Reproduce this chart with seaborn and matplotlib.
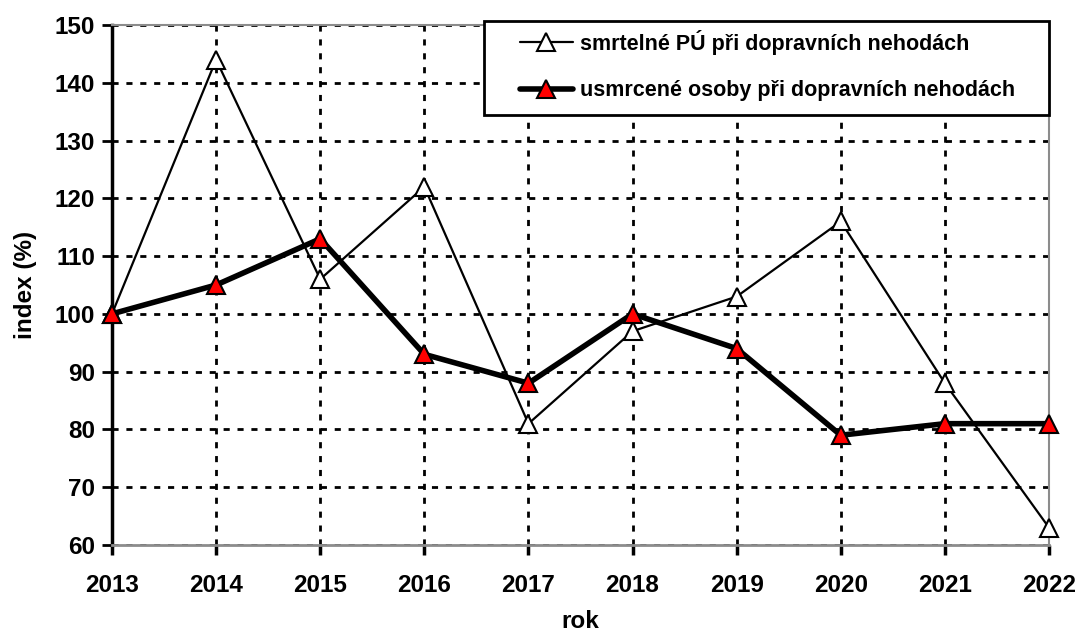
import matplotlib
matplotlib.use("Agg")
import matplotlib.pyplot as plt
import matplotlib.patches as mpatches
import seaborn as sns
import pandas as pd

years = [2013, 2014, 2015, 2016, 2017, 2018, 2019, 2020, 2021, 2022]
smrtelne_pu = [100, 144, 106, 122, 81, 97, 103, 116, 88, 63]
usmrcene_osoby = [100, 105, 113, 93, 88, 100, 94, 79, 81, 81]
label_pu = "smrtelné PÚ při dopravních nehodách"
label_os = "usmrcené osoby při dopravních nehodách"
y_ticks = [60, 70, 80, 90, 100, 110, 120, 130, 140, 150]

sns.set_theme(style="white")
plt.rcParams['font.family'] = ['Liberation Sans', 'DejaVu Sans']
plt.rcParams['font.weight'] = 'bold'
plt.rcParams['text.color'] = 'black'
plt.rcParams['axes.labelcolor'] = 'black'
plt.rcParams['xtick.color'] = 'black'
plt.rcParams['ytick.color'] = 'black'

fig = plt.figure(figsize=(10.81, 6.31), dpi=100)
ax = fig.add_axes([0.1036, 0.1363, 0.8668, 0.8241])

df1 = pd.DataFrame({"rok": years, "index": smrtelne_pu})
df2 = pd.DataFrame({"rok": years, "index": usmrcene_osoby})

sns.lineplot(data=df1, x="rok", y="index", ax=ax, color="black", linewidth=1.6,
             marker="^", markersize=13, markerfacecolor="white",
             markeredgecolor="black", markeredgewidth=1.5, label=label_pu,
             clip_on=False, zorder=4)
sns.lineplot(data=df2, x="rok", y="index", ax=ax, color="black", linewidth=4,
             marker="^", markersize=13, markerfacecolor="red",
             markeredgecolor="black", markeredgewidth=1.5, label=label_os,
             clip_on=False, zorder=5)

ax.set_xlim(2013, 2022)
ax.set_ylim(60, 150)
ax.set_xticks(years)
ax.set_yticks(y_ticks)
ax.set_xticklabels([str(y) for y in years], fontsize=17.5, fontweight='bold')
ax.set_yticklabels([str(v) for v in y_ticks], fontsize=17.5, fontweight='bold')
ax.tick_params(axis='x', direction='out', length=7, width=2.5, color='black', pad=14,
               bottom=True, labelcolor='black')
ax.tick_params(axis='y', direction='out', length=7, width=2, color='black', pad=5,
               left=True, labelcolor='black')

ax.grid(True, color='black', linestyle=(0, (2.2, 2.8)), linewidth=2)
ax.set_axisbelow(True)

for s in ['top', 'right']:
    ax.spines[s].set_color('#8c8c8c')
    ax.spines[s].set_linewidth(1.5)
ax.spines['bottom'].set_color('#8c8c8c')
ax.spines['bottom'].set_linewidth(2)
ax.spines['left'].set_color('black')
ax.spines['left'].set_linewidth(2.5)

ax.set_xlabel("rok", fontsize=17.5, fontweight='bold', labelpad=9, color='black')
ax.set_ylabel("index (%)", fontsize=17.5, fontweight='bold', labelpad=13, color='black')

handles, labels = ax.get_legend_handles_labels()
ax.get_legend().remove()

# legend frame drawn as a figure-level rectangle
frame = mpatches.Rectangle((484 / 1081, 1 - 115 / 631), 565 / 1081, 94 / 631,
                           transform=fig.transFigure, facecolor='white',
                           edgecolor='black', linewidth=2, zorder=5)
fig.patches.append(frame)

leg = fig.legend(handles, labels, loc='upper left',
                 bbox_to_anchor=(520 / 1081, 1 - 30 / 631),
                 bbox_transform=fig.transFigure,
                 frameon=False,
                 prop={'size': 15.5, 'weight': 'bold'}, handlelength=2.45,
                 handletextpad=0.33, borderpad=0, labelspacing=1.18,
                 borderaxespad=0)
for t in leg.get_texts():
    t.set_color('black')
leg.set_zorder(10)

fig.savefig("out.png", dpi=100)
